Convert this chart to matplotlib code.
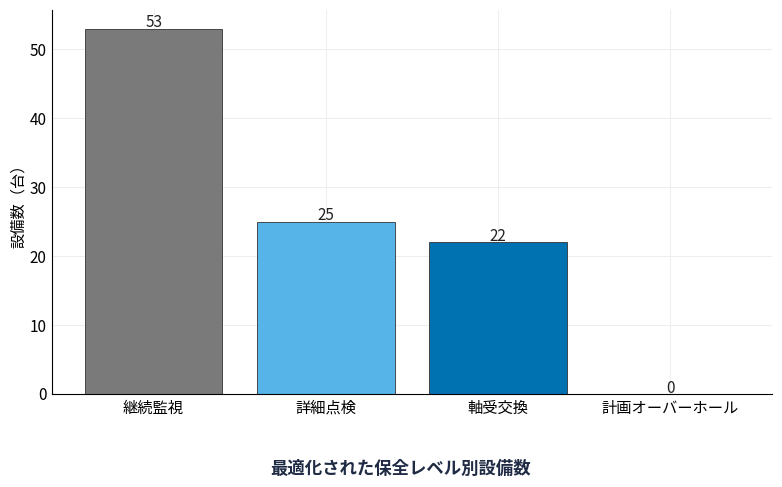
#!/usr/bin/env python3

import matplotlib
matplotlib.use('Agg')
import matplotlib.pyplot as plt

plt.rcParams['font.family'] = ['Noto Sans CJK JP', 'DejaVu Sans']

levels = ['継続監視', '詳細点検', '軸受交換', '計画オーバーホール']
counts = [53, 25, 22, 0]
colors = ['#7a7a7a', '#56b4e9', '#0072b2', '#e69f00']

fig = plt.figure(figsize=(7.82, 4.87), dpi=100)
ax = fig.add_axes([0.0665, 0.191, 0.9205, 0.788])

bars = ax.bar(levels, counts, color=colors, edgecolor='#333333', linewidth=0.6, zorder=2)
for b, v in zip(bars, counts):
    ax.annotate(str(v), (b.get_x() + b.get_width() / 2, v), xytext=(0, -2),
                textcoords='offset points', ha='center', va='bottom',
                fontsize=11, color='#222222', zorder=3)

ax.set_ylabel('設備数（台）', fontsize=11, labelpad=2)
ax.grid(True, color='#eeeeee', linewidth=0.8, zorder=0)
ax.spines['top'].set_visible(False)
ax.spines['right'].set_visible(False)
ax.tick_params(length=0, labelsize=11, pad=4)
ax.set_yticks([0, 10, 20, 30, 40, 50])

fig.text(0.512, 0.038, '最適化された保全レベル別設備数', ha='center', va='center',
         fontsize=12.5, fontweight='bold', color='#1f2a44')

fig.savefig('out.png', dpi=100)
